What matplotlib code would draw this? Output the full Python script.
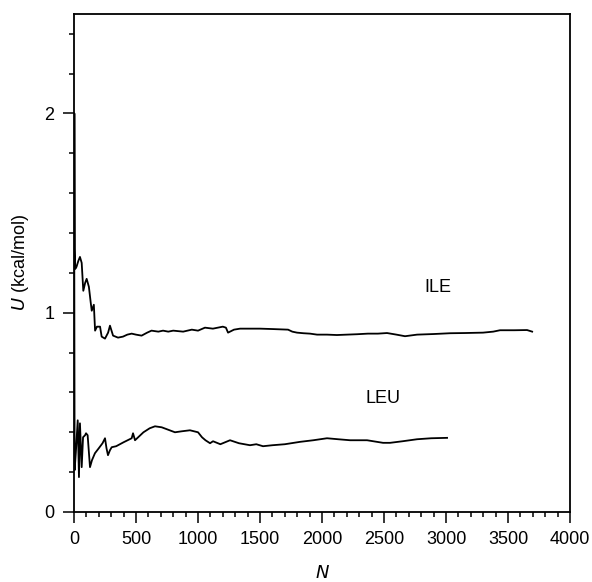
import numpy as np
import matplotlib
matplotlib.use("Agg")
import matplotlib.pyplot as plt
from matplotlib.ticker import MultipleLocator

plt.rcParams['font.family'] = ['Liberation Sans', 'DejaVu Sans']

# ILE running average
ile_n = [1, 3, 6, 10, 20, 35, 48, 62, 75, 90, 102, 120, 135, 143, 160, 170, 185,
         210, 223, 250, 275, 290, 315, 355, 395, 430, 465, 500, 545, 590, 625,
         680, 718, 760, 800, 880, 950, 1000, 1056, 1120, 1200, 1225, 1242,
         1290, 1339, 1420, 1500, 1600, 1726, 1760, 1798, 1850, 1903, 1960,
         2040, 2120, 2200, 2282, 2370, 2450, 2524, 2600, 2669, 2766, 2900,
         3032, 3150, 3298, 3380, 3435, 3550, 3653, 3694]
ile_u = [0.25, 2.0, 1.32, 1.22, 1.23, 1.26, 1.28, 1.25, 1.11, 1.15, 1.17, 1.13,
         1.05, 1.01, 1.04, 0.91, 0.93, 0.93, 0.88, 0.87, 0.90, 0.935, 0.885,
         0.875, 0.88, 0.89, 0.895, 0.89, 0.885, 0.90, 0.91, 0.905, 0.91,
         0.905, 0.91, 0.905, 0.915, 0.91, 0.925, 0.92, 0.93, 0.925, 0.90,
         0.915, 0.92, 0.92, 0.92, 0.918, 0.915, 0.905, 0.90, 0.897, 0.895,
         0.89, 0.89, 0.888, 0.89, 0.892, 0.895, 0.895, 0.898, 0.89, 0.882,
         0.89, 0.893, 0.897, 0.898, 0.90, 0.905, 0.912, 0.912, 0.913, 0.905]

# LEU running average
leu_n = [1, 5, 15, 30, 40, 48, 62, 73, 89, 97, 110, 120, 129, 145, 169, 200,
         230, 250, 262, 274, 290, 304, 340, 400, 465, 476, 492, 560, 610, 653,
         707, 750, 814, 870, 935, 1000, 1032, 1060, 1097, 1121, 1180, 1258,
         1330, 1419, 1470, 1524, 1600, 1700, 1823, 1930, 2040, 2130, 2226,
         2363, 2492, 2548, 2650, 2766, 2880, 3008]
leu_u = [1.25, 0.21, 0.30, 0.46, 0.175, 0.445, 0.225, 0.375, 0.385, 0.395,
         0.385, 0.30, 0.225, 0.26, 0.295, 0.32, 0.345, 0.37, 0.32, 0.285,
         0.31, 0.325, 0.33, 0.35, 0.37, 0.395, 0.36, 0.40, 0.42, 0.43, 0.425,
         0.415, 0.40, 0.405, 0.41, 0.40, 0.375, 0.36, 0.345, 0.355, 0.34,
         0.36, 0.345, 0.335, 0.34, 0.33, 0.335, 0.34, 0.352, 0.36, 0.37,
         0.365, 0.36, 0.36, 0.347, 0.347, 0.355, 0.365, 0.37, 0.372]

fig = plt.figure(figsize=(5.92, 5.82), dpi=100)
ax = fig.add_axes([0.125, 0.1203, 0.838, 0.856])

ax.plot(ile_n, ile_u, color='black', lw=1.3)
ax.plot(leu_n, leu_u, color='black', lw=1.3)

ax.text(2935, 1.125, 'ILE', fontsize=13, ha='center', va='center')
ax.text(2492, 0.57, 'LEU', fontsize=13, ha='center', va='center')

ax.set_xlim(0, 4000)
ax.set_ylim(0, 2.5)
ax.xaxis.set_major_locator(MultipleLocator(500))
ax.xaxis.set_minor_locator(MultipleLocator(100))
ax.yaxis.set_major_locator(MultipleLocator(1))
ax.yaxis.set_minor_locator(MultipleLocator(0.2))
ax.tick_params(which='both', direction='out', top=False, right=False,
               labelsize=13, width=1.1)
ax.tick_params(which='major', length=8, pad=6)
ax.tick_params(which='minor', length=3.5)
for s in ax.spines.values():
    s.set_linewidth(1.3)

ax.set_xlabel('$N$', fontsize=13, labelpad=12)
ax.set_ylabel('$U$ (kcal/mol)', fontsize=13, labelpad=10)

fig.savefig('out.png', dpi=100)
